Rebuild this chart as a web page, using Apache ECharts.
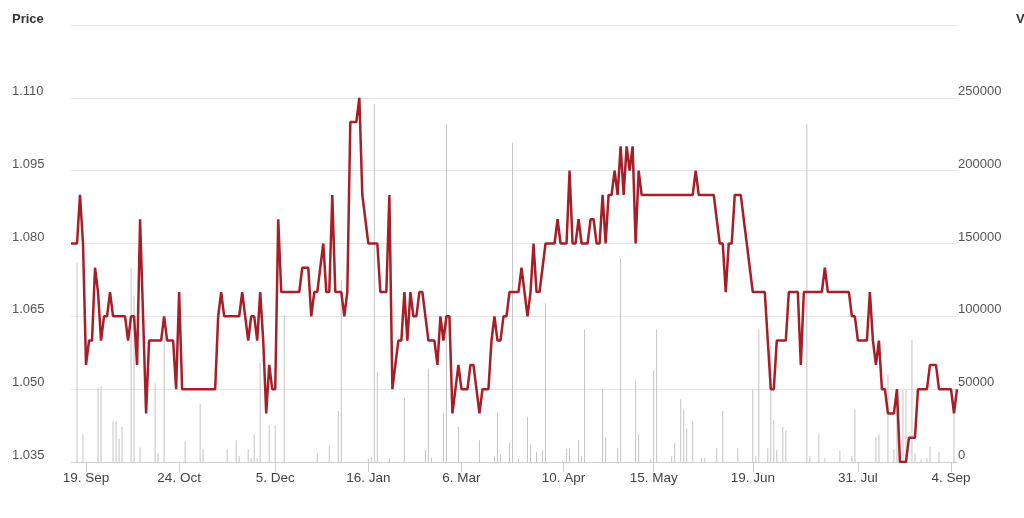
<!DOCTYPE html>
<html>
<head>
<meta charset="utf-8">
<script src="https://cdn.jsdelivr.net/npm/echarts@6/dist/echarts.min.js"></script>
<style>
  html, body { margin: 0; padding: 0; background: #fff; }
  #chart { width: 1024px; height: 518px; }
</style>
</head>
<body>
<div id="chart"></div>
<script>
// Price per trading point (ordinal axis: equally spaced points)
const price = [
  1.080,1.080,1.080,1.090,1.080,1.055,1.060,1.060,1.075,1.070,
  1.060,1.065,1.065,1.070,1.065,1.065,1.065,1.065,1.065,1.060,
  1.065,1.065,1.055,1.085,1.065,1.045,1.060,1.060,1.060,1.060,
  1.060,1.065,1.060,1.060,1.060,1.050,1.070,1.050,1.050,1.050,
  1.050,1.050,1.050,1.050,1.050,1.050,1.050,1.050,1.050,1.065,
  1.070,1.065,1.065,1.065,1.065,1.065,1.065,1.070,1.065,1.060,
  1.065,1.065,1.060,1.070,1.060,1.045,1.055,1.050,1.050,1.085,
  1.070,1.070,1.070,1.070,1.070,1.070,1.070,1.075,1.075,1.075,
  1.065,1.070,1.070,1.075,1.080,1.070,1.070,1.090,1.070,1.070,
  1.070,1.065,1.070,1.105,1.105,1.105,1.110,1.090,1.085,1.080,
  1.080,1.080,1.080,1.070,1.070,1.070,1.090,1.050,1.055,1.060,
  1.060,1.070,1.060,1.070,1.065,1.065,1.070,1.070,1.065,1.060,
  1.060,1.060,1.055,1.065,1.060,1.065,1.065,1.045,1.050,1.055,
  1.050,1.050,1.050,1.055,1.055,1.050,1.045,1.050,1.050,1.050,
  1.060,1.065,1.060,1.060,1.065,1.065,1.070,1.070,1.070,1.070,
  1.075,1.070,1.065,1.070,1.080,1.070,1.070,1.075,1.080,1.080,
  1.080,1.080,1.085,1.080,1.080,1.080,1.095,1.080,1.080,1.085,
  1.080,1.080,1.080,1.085,1.085,1.080,1.080,1.090,1.080,1.090,
  1.090,1.095,1.090,1.100,1.090,1.100,1.095,1.100,1.080,1.095,
  1.090,1.090,1.090,1.090,1.090,1.090,1.090,1.090,1.090,1.090,
  1.090,1.090,1.090,1.090,1.090,1.090,1.090,1.090,1.095,1.090,
  1.090,1.090,1.090,1.090,1.090,1.085,1.080,1.080,1.070,1.080,
  1.080,1.090,1.090,1.090,1.085,1.080,1.075,1.070,1.070,1.070,
  1.070,1.070,1.060,1.050,1.050,1.060,1.060,1.060,1.060,1.070,
  1.070,1.070,1.070,1.055,1.070,1.070,1.070,1.070,1.070,1.070,
  1.070,1.075,1.070,1.070,1.070,1.070,1.070,1.070,1.070,1.070,
  1.065,1.065,1.060,1.060,1.060,1.060,1.070,1.060,1.055,1.060,
  1.050,1.050,1.045,1.045,1.045,1.050,1.035,1.035,1.035,1.040,
  1.040,1.040,1.050,1.050,1.050,1.050,1.055,1.055,1.055,1.050,
  1.050,1.050,1.050,1.050,1.045,1.050
];

// Volume per trading point
const volume = [
  0,0,137000,0,19000,0,0,0,0,51000,
  52000,0,0,0,28000,28000,16000,24000,0,0,
  133000,114000,0,10000,0,0,0,0,54000,6000,
  0,85000,0,0,0,0,0,0,14000,0,
  0,0,0,40000,9000,0,0,0,0,0,
  0,0,9000,0,0,15000,4000,0,0,9000,
  2500,19000,2500,68000,0,0,25000,0,25000,0,
  0,101000,0,0,0,0,0,0,0,0,
  0,0,6000,0,0,0,11000,0,0,35000,
  125000,0,0,0,0,0,0,0,0,2000,
  3500,246000,62000,0,0,0,2000,0,0,0,
  0,44000,0,0,0,0,0,0,8000,64000,
  3000,0,0,0,34000,232000,0,0,0,24000,
  0,0,0,0,0,0,15000,0,0,0,
  0,4000,34000,5000,0,0,13000,219000,0,2000,
  0,0,31000,12000,0,7000,0,8000,109000,0,
  0,0,0,0,0,9000,9500,0,0,15000,
  4000,91000,0,0,0,0,0,50000,17000,0,
  0,0,9500,140000,0,0,0,0,56000,19000,
  0,0,0,1500,63000,91000,0,0,0,0,
  4000,13000,0,43000,36000,23000,0,28000,0,0,
  2500,2500,0,0,0,9500,0,35000,0,0,
  0,0,9500,0,0,0,0,50000,4000,91000,
  0,0,9500,80000,29000,8000,0,24000,21500,0,
  0,0,0,0,0,232000,4000,0,0,19000,
  0,2500,0,0,0,0,7600,0,0,0,
  4000,36000,0,0,0,0,0,0,17000,19000,
  0,0,60000,0,9000,50000,0,49500,49500,0,
  84000,6000,0,1800,0,2500,10500,0,0,7000,
  0,0,0,0,45000,0
];

// Date tick labels and the point index where each sits
const tickIndex  = [5, 36, 68, 99, 130, 164, 194, 227, 262, 293];
const tickLabels = ['19. Sep','24. Oct','5. Dec','16. Jan','6. Mar','10. Apr','15. May','19. Jun','31. Jul','4. Sep'];

// Price axis ticks / volume axis ticks
const priceAxis  = { min: 1.035, max: 1.125, interval: 0.015 };
const volumeAxis = { min: 0, max: 300000, interval: 50000 };

const categories = price.map((_, i) => i);
const labelAt = {};
tickIndex.forEach((idx, k) => { labelAt[idx] = tickLabels[k]; });
const isTick = (i) => labelAt[i] !== undefined;

const FONT = '"Liberation Sans", Arial, sans-serif';
const chart = echarts.init(document.getElementById('chart'), null, { renderer: 'canvas' });

chart.setOption({
  animation: false,
  backgroundColor: '#ffffff',
  title: [
    { text: 'Price', left: 12, top: 13, padding: 0,
      textStyle: { fontSize: 13, fontWeight: 'bold', color: '#333', fontFamily: FONT } },
    { text: 'Volume', left: 1016, top: 13, padding: 0,
      textStyle: { fontSize: 13, fontWeight: 'bold', color: '#333', fontFamily: FONT } }
  ],
  grid: { left: 71, right: 67, top: 25, bottom: 56, containLabel: false },
  xAxis: {
    type: 'category',
    data: categories,
    boundaryGap: false,
    axisLine: { show: true, lineStyle: { color: '#d0d0d0', width: 1 } },
    axisTick: { show: true, interval: (i) => isTick(i), length: 10, lineStyle: { color: '#cccccc' } },
    axisLabel: {
      interval: (i) => isTick(i),
      formatter: (v, i) => labelAt[i] || '',
      color: '#444', fontSize: 13.5, fontFamily: FONT, margin: 9
    },
    splitLine: { show: false }
  },
  yAxis: [
    {
      type: 'value',
      min: priceAxis.min, max: priceAxis.max, interval: priceAxis.interval,
      axisLine: { show: false }, axisTick: { show: false },
      axisLabel: {
        showMaxLabel: false,
        formatter: (v) => v.toFixed(3),
        align: 'left', verticalAlign: 'bottom', margin: 59,
        color: '#555', fontSize: 13, fontFamily: FONT
      },
      splitLine: { show: true, lineStyle: { color: '#e6e6e6', width: 1 } }
    },
    {
      type: 'value',
      position: 'right',
      min: volumeAxis.min, max: volumeAxis.max, interval: volumeAxis.interval,
      axisLine: { show: false }, axisTick: { show: false },
      axisLabel: {
        showMaxLabel: false,
        formatter: (v) => String(Math.round(v)),
        align: 'left', verticalAlign: 'bottom', margin: 1,
        color: '#555', fontSize: 13, fontFamily: FONT
      },
      splitLine: { show: false }
    }
  ],
  series: [
    {
      name: 'Volume', type: 'bar', yAxisIndex: 1, data: volume,
      barWidth: 1, itemStyle: { color: '#c4c4c4' }, z: 1
    },
    {
      name: 'Price', type: 'line', yAxisIndex: 0, data: price,
      symbol: 'none', lineStyle: { color: '#a61f28', width: 2.5 }, z: 3
    }
  ]
});
</script>
</body>
</html>
